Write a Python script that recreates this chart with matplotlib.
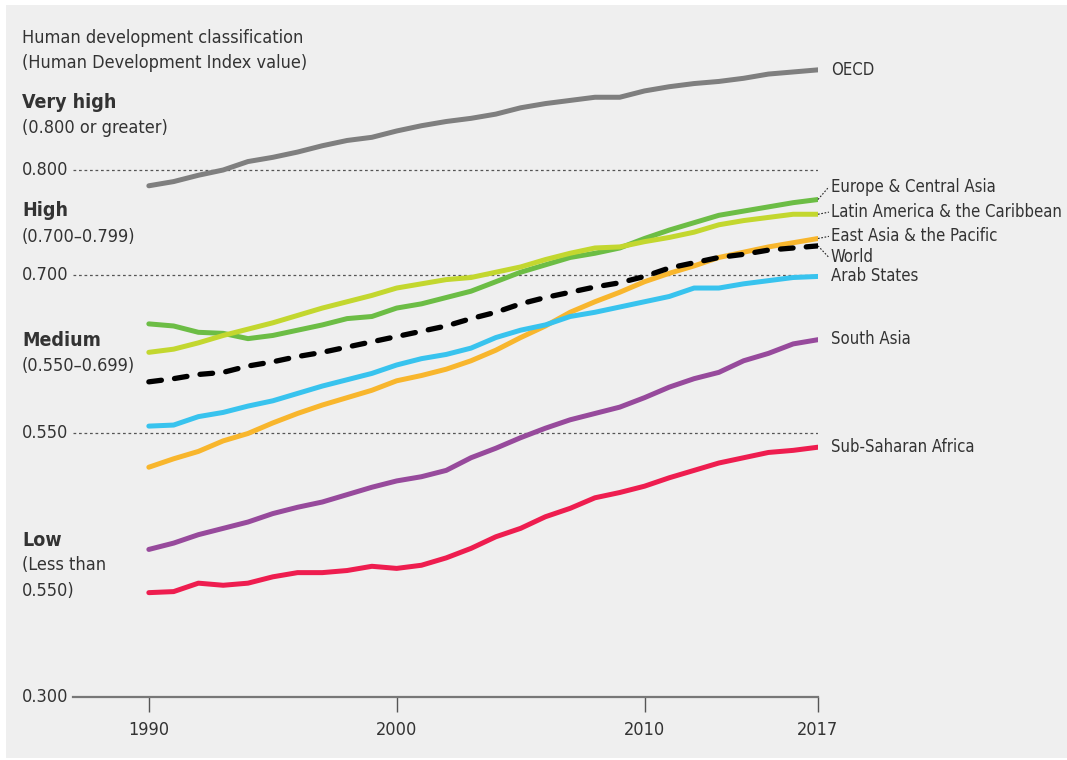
import matplotlib.pyplot as plt
from matplotlib.patches import Rectangle
from matplotlib.transforms import blended_transform_factory

# HDI by region, 1990-2017
years = list(range(1990, 2018))

oecd = [0.785, 0.789, 0.795, 0.800, 0.808, 0.812, 0.817, 0.823, 0.828, 0.831,
        0.837, 0.842, 0.846, 0.849, 0.853, 0.859, 0.863, 0.866, 0.869, 0.869,
        0.875, 0.879, 0.882, 0.884, 0.887, 0.891, 0.893, 0.895]
europe_ca = [0.654, 0.652, 0.646, 0.645, 0.640, 0.643, 0.648, 0.653, 0.659, 0.661,
             0.669, 0.673, 0.679, 0.685, 0.694, 0.703, 0.710, 0.717, 0.721, 0.726,
             0.735, 0.743, 0.750, 0.757, 0.761, 0.765, 0.769, 0.772]
latin_am = [0.627, 0.630, 0.636, 0.643, 0.649, 0.655, 0.662, 0.669, 0.675, 0.681,
            0.688, 0.692, 0.696, 0.698, 0.703, 0.708, 0.715, 0.721, 0.726, 0.727,
            0.732, 0.736, 0.741, 0.748, 0.752, 0.755, 0.758, 0.758]
east_asia = [0.518, 0.526, 0.533, 0.543, 0.550, 0.560, 0.569, 0.577, 0.584, 0.591,
             0.600, 0.605, 0.611, 0.619, 0.629, 0.641, 0.652, 0.665, 0.675, 0.684,
             0.694, 0.702, 0.709, 0.717, 0.722, 0.727, 0.731, 0.735]
world = [0.599, 0.602, 0.606, 0.608, 0.614, 0.618, 0.623, 0.627, 0.632, 0.637,
         0.642, 0.647, 0.652, 0.659, 0.665, 0.673, 0.679, 0.684, 0.689, 0.693,
         0.699, 0.707, 0.712, 0.717, 0.720, 0.724, 0.726, 0.728]
arab = [0.557, 0.558, 0.566, 0.570, 0.576, 0.581, 0.588, 0.595, 0.601, 0.607,
        0.615, 0.621, 0.625, 0.631, 0.641, 0.648, 0.653, 0.661, 0.665, 0.670,
        0.675, 0.680, 0.688, 0.688, 0.692, 0.695, 0.698, 0.699]
south_asia = [0.440, 0.446, 0.454, 0.460, 0.466, 0.474, 0.480, 0.485, 0.492, 0.499,
              0.505, 0.509, 0.515, 0.527, 0.536, 0.546, 0.555, 0.563, 0.569, 0.575,
              0.584, 0.594, 0.602, 0.608, 0.619, 0.626, 0.635, 0.639]
ssa = [0.399, 0.400, 0.408, 0.406, 0.408, 0.414, 0.418, 0.418, 0.420, 0.424,
       0.422, 0.425, 0.432, 0.441, 0.452, 0.460, 0.471, 0.479, 0.489, 0.494,
       0.500, 0.508, 0.515, 0.522, 0.527, 0.532, 0.534, 0.537]

names = ["OECD", "Europe & Central Asia", "Latin America & the Caribbean",
         "East Asia & the Pacific", "World", "Arab States", "South Asia",
         "Sub-Saharan Africa"]
series = [oecd, europe_ca, latin_am, east_asia, world, arab, south_asia, ssa]
colors = ["#7f7f7f", "#6cbd45", "#c3d72f", "#f8b62d", "#000000", "#38c3ee",
          "#974a9c", "#ee1d4f"]
# where each end label sits (HDI units) and whether it gets a leader line
label_y = [0.895, 0.784, 0.760, 0.737, 0.717, 0.699, 0.640, 0.537]
leader = [False, True, True, True, True, False, False, False]

thresholds = [0.800, 0.700, 0.550]
yticks = [0.300, 0.550, 0.700, 0.800]
xticks = [1990, 2000, 2010, 2017]

plt.rcParams['font.family'] = ['DejaVu Sans']
plt.rcParams['font.stretch'] = 'condensed'
TXT = '#333333'
FS = 13

W, H = 1067, 760
fig = plt.figure(figsize=(W / 100, H / 100), dpi=100)
fig.patch.set_facecolor('white')
fig.patches.append(Rectangle((6 / W, 2 / H), 1 - 6 / W, 1 - 7 / H,
                             transform=fig.transFigure, facecolor='#efefef',
                             edgecolor='none', zorder=-5))

ax = fig.add_axes([73 / W, 1 - 697 / H, (818 - 73) / W, (697 - 43.5) / H])
ax.set_facecolor('none')
ax.set_xlim(1986.94, 2017)
ax.set_ylim(0.3, 0.92)

for t in thresholds:
    ax.axhline(t, color='#555555', lw=0.9, ls=(0, (2.2, 2.2)), zorder=1)

for name, vals, c in zip(names, series, colors):
    if name == "World":
        ax.plot(years, vals, color=c, lw=3.8, ls=(0, (2.4, 2.5)), zorder=3,
                solid_capstyle='round', dash_capstyle='round')
    else:
        ax.plot(years, vals, color=c, lw=3.6, zorder=2,
                solid_capstyle='round')

for name, vals, ly, ld in zip(names, series, label_y, leader):
    if ld:
        ax.plot([2017, 2017.44], [vals[-1], ly], color='#222222', lw=0.8,
                ls=(0, (1.5, 1.5)), clip_on=False)
    ax.text(2017.52, ly, name, fontsize=12, color=TXT, va='center',
            ha='left', clip_on=False)

for s in ['top', 'right', 'left']:
    ax.spines[s].set_visible(False)
ax.spines['bottom'].set_color('#777777')
ax.spines['bottom'].set_linewidth(1.6)
ax.set_xticks(xticks)
ax.set_xticklabels([str(x) for x in xticks], fontsize=FS, color=TXT)
ax.tick_params(axis='x', length=11, width=1.0, color='#555555', pad=6)
ax.set_yticks([])

ylab_tr = blended_transform_factory(fig.transFigure, ax.transData)
for t in yticks:
    ax.text(22 / W, t, f"{t:.3f}", fontsize=FS, color=TXT, va='center',
            ha='left', transform=ylab_tr, clip_on=False)


# classification captions on the left
def ftext(px, py, s, size=FS, **kw):
    fig.text(px / W, 1 - py / H, s, va='center', ha='left', color=TXT,
             fontsize=size, **kw)


ftext(22, 38, "Human development classification")
ftext(22, 63, "(Human Development Index value)")
ftext(22, 103, "Very high", 14, fontweight='bold')
ftext(22, 128, "(0.800 or greater)")
ftext(22, 210, "High", 14, fontweight='bold')
ftext(22, 237, "(0.700\u20130.799)")
ftext(22, 340, "Medium", 14, fontweight='bold')
ftext(22, 366, "(0.550\u20130.699)")
ftext(22, 540, "Low", 14, fontweight='bold')
ftext(22, 565, "(Less than")
ftext(22, 591, "0.550)")

fig.savefig('out.png', dpi=100, facecolor=fig.get_facecolor())
